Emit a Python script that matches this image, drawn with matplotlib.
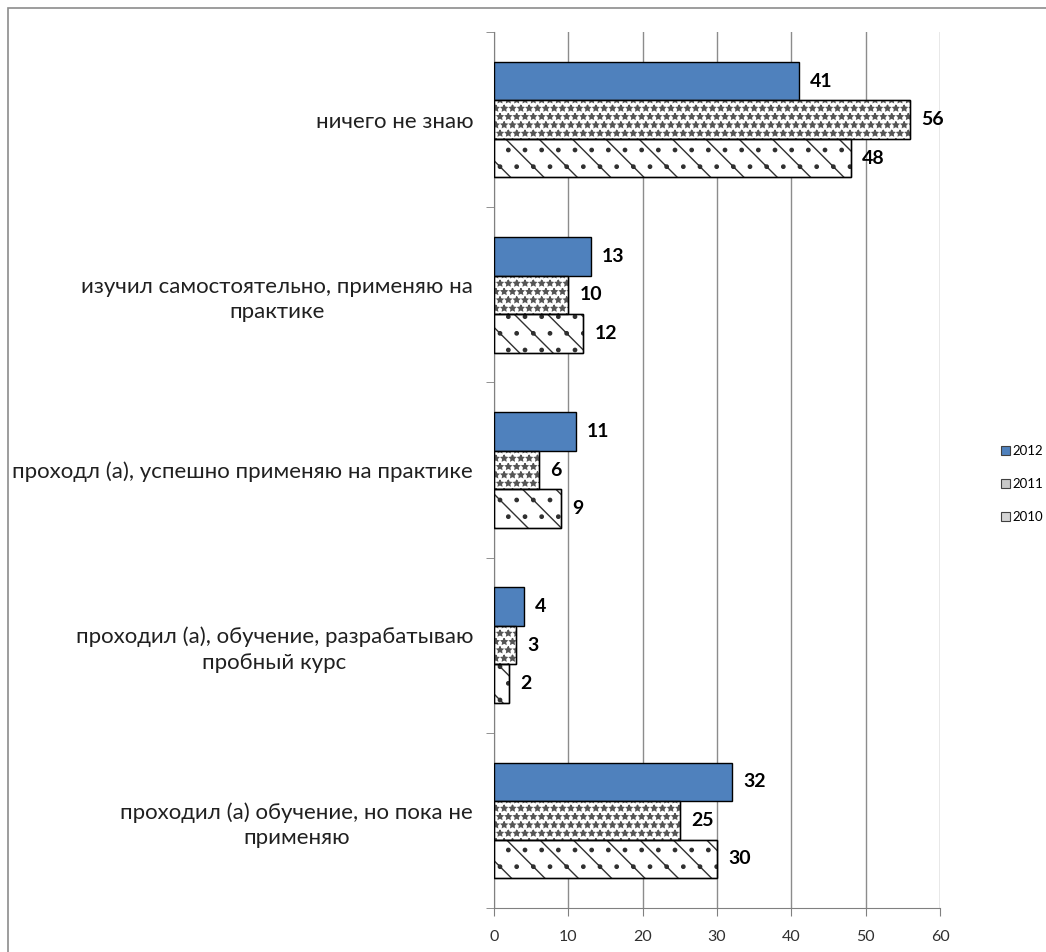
import numpy as np
import matplotlib.pyplot as plt
from matplotlib.patches import Rectangle, Patch

# Data
categories = [
    "ничего не знаю",
    "изучил самостоятельно, применяю на\nпрактике",
    "проходл (а), успешно применяю на практике",
    "проходил (а), обучение, разрабатываю\nпробный курс",
    "проходил (а) обучение, но пока не\nприменяю",
]
years = ["2012", "2011", "2010"]
values_2012 = [41, 13, 11, 4, 32]
values_2011 = [56, 10, 6, 3, 25]
values_2010 = [48, 12, 9, 2, 30]
x_ticks = [0, 10, 20, 30, 40, 50, 60]

plt.rcParams["font.family"] = ["Lato", "DejaVu Sans"]
plt.rcParams["hatch.linewidth"] = 1.0

fig = plt.figure(figsize=(10.46, 9.52), dpi=100)
ax = fig.add_axes([494 / 1046, 1 - 908 / 952, (940 - 494) / 1046, (908 - 32) / 952])

# outer chart frame
fig.patches.append(Rectangle((8 / 1046, -0.01), 1.0, 1 - 8 / 952 + 0.01,
                             transform=fig.transFigure, fill=False,
                             edgecolor="#8c8c8c", linewidth=1.2))

y = np.arange(len(categories))
h = 0.22
styles = [
    dict(color="#4f81bd", edgecolor="black", hatch=None),
    dict(color="white", edgecolor="#555555", hatch="**"),
    dict(color="white", edgecolor="#303030", hatch="\\."),
]
series = [values_2012, values_2011, values_2010]

for i, (vals, st) in enumerate(zip(series, styles)):
    bars = ax.barh(y + (i - 1) * h, vals, height=h, color=st["color"],
                   edgecolor=st["edgecolor"], hatch=st["hatch"], linewidth=1.0,
                   zorder=3)
    if st["hatch"]:
        # redraw black outline on top of the hatched fill
        ax.barh(y + (i - 1) * h, vals, height=h, fill=False,
                edgecolor="black", linewidth=1.0, zorder=4)
    ax.bar_label(bars, padding=8, fontsize=14, fontweight="bold", zorder=5)

ax.set_xlim(0, 60)
ax.set_ylim(len(categories) - 0.5, -0.5)
ax.set_xticks(x_ticks)
ax.tick_params(axis="x", direction="out", length=6, color="#808080",
               labelsize=11.5, labelcolor="#303030", pad=10)
ax.set_yticks(y)
ax.set_yticklabels(categories, fontsize=16, multialignment="center",
                   linespacing=1.35, color="#202020")
ax.tick_params(axis="y", which="major", length=0, pad=15)
ax.set_yticks(np.arange(-0.5, len(categories)), minor=True)
ax.tick_params(axis="y", which="minor", direction="out", length=6,
               color="#808080")

ax.grid(axis="x", color="#8c8c8c", linewidth=1.0, zorder=0)
for s in ["top", "right"]:
    ax.spines[s].set_visible(False)
for s in ["left", "bottom"]:
    ax.spines[s].set_color("#808080")

legend_colors = ["#4f81bd", "#c8c8c8", "#d4d4d4"]
handles = [Patch(facecolor=c, edgecolor="#404040", linewidth=0.8, label=yr)
           for c, yr in zip(legend_colors, years)]
fig.legend(handles=handles, loc="center left",
           bbox_to_anchor=(1001 / 1046, 1 - 484 / 952), frameon=False,
           fontsize=9.5, handlelength=0.65, handleheight=0.65,
           handletextpad=0.25, labelspacing=1.6, borderaxespad=0,
           borderpad=0)

fig.savefig("out.png", dpi=100)
